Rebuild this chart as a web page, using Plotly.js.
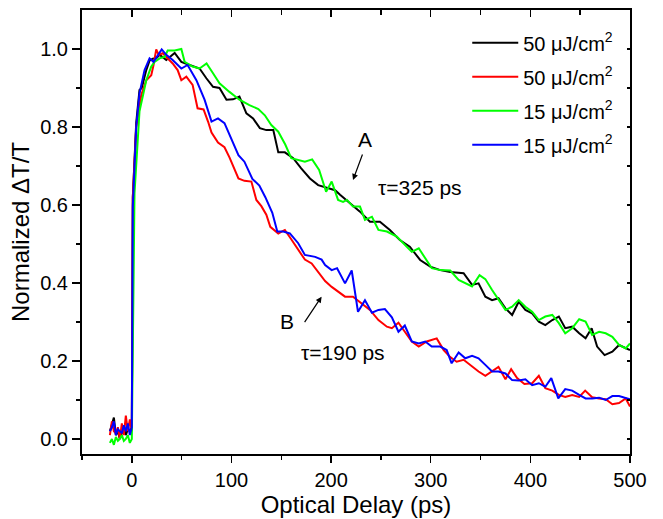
<!DOCTYPE html>
<html>
<head>
<meta charset="utf-8">
<script src="https://cdn.plot.ly/plotly-3.0.1.min.js"></script>
<style>html,body{margin:0;padding:0;background:#fff;}#chart{width:663px;height:519px;}</style>
</head>
<body>
<div id="chart"></div>
<script>
// ---- data ----
const seriesNames = ['50 \u03bcJ/cm<sup>2</sup>', '50 \u03bcJ/cm<sup>2</sup>', '15 \u03bcJ/cm<sup>2</sup>', '15 \u03bcJ/cm<sup>2</sup>'];
const seriesColors = ['#000000', '#ff0000', '#00ff00', '#0000ff'];

const blackX = [-22,-20,-18,-16,-14,-12,-10,-8,-6,-4,-2,0,1,4.4,7.7,10,14.5,17.8,21,24.5,28,34.6,43,49.7,58,68,74.8,81.5,88,95,101.6,108,115,121.7,128.5,135,142,147,153.6,162,170,178.8,187,195.6,204,209,219,229,239,249,259,269,279,289.4,299.5,309.6,319.6,333,341.5,348,354.8,361.6,368,375,381.7,388.3,395,401.8,408.5,415,422,428.6,435,442,449,455.4,461.5,467,474.5,482.3,489,495.7,500];
const blackY = [0.02,0.04,0.055,0.01,0.02,0.0,0.015,0.03,0.01,0.025,0.02,0.03,0.62,0.81,0.895,0.90,0.946,0.97,0.975,0.976,0.985,0.972,0.99,0.967,0.959,0.95,0.925,0.903,0.90,0.87,0.871,0.878,0.835,0.822,0.797,0.792,0.792,0.735,0.735,0.72,0.694,0.668,0.651,0.645,0.638,0.626,0.604,0.583,0.557,0.557,0.536,0.51,0.493,0.459,0.442,0.433,0.428,0.425,0.395,0.399,0.365,0.356,0.361,0.335,0.318,0.352,0.331,0.322,0.301,0.292,0.305,0.314,0.284,0.288,0.271,0.258,0.284,0.237,0.215,0.224,0.241,0.232,0.228];

const redX = [-22,-20,-18,-16,-14,-12,-10,-8,-6,-4,-2,0,1,4.4,9.5,14.5,19.5,21.8,24.5,27,31,36,41,46,49.7,54.7,61,66,72,76.5,80,86.5,93,98,107,113,120,125,130,135,139,147,153.6,160,167,173.7,180.5,187,194,200.6,206,214,222,231,239,247.5,256,261,267.6,274,281,288,296,306,313,319.6,326,333,341.5,348,354.8,361.6,368,375,380.7,386.7,394,401.8,408.5,415,422,428.6,435,442,449,455,462,469,475.6,482.3,489,495.7,500];
const redY = [0.01,0.045,0.02,0.015,0.03,0.0,0.04,0.01,0.06,0.02,0.05,0.02,0.62,0.80,0.882,0.92,0.933,0.959,0.999,0.985,0.989,0.976,0.963,0.946,0.92,0.929,0.908,0.848,0.845,0.814,0.786,0.76,0.748,0.722,0.668,0.662,0.66,0.613,0.597,0.575,0.544,0.527,0.536,0.512,0.487,0.46,0.45,0.429,0.405,0.39,0.38,0.365,0.365,0.348,0.331,0.305,0.288,0.284,0.298,0.275,0.25,0.237,0.25,0.258,0.228,0.21,0.198,0.203,0.185,0.173,0.162,0.173,0.185,0.153,0.179,0.156,0.141,0.143,0.162,0.13,0.124,0.113,0.108,0.113,0.108,0.124,0.107,0.104,0.102,0.089,0.092,0.104,0.083];

const greenX = [-22,-20,-18,-16,-14,-12,-10,-8,-6,-4,-2,0,2.7,7.7,14.5,19.5,22.8,27.9,33,36,43,49.7,53,61,68,75,81.5,88,98,108,118,127,133.5,140,147,154,160,167,173.7,181,188,195,200.6,207,212,216,222,229,234,241,247.5,256,266,276,281,288,294.5,301,309.6,319.6,328,334.7,341.5,349,354.8,361.6,368,375,381.7,388.3,395,401.8,408.5,415,422,428.6,435,442,449,455.4,462,469,475.6,482.3,489,495.7,500];
const greenY = [-0.01,0.0,-0.015,0.005,-0.005,0.0,0.01,-0.005,0.0,0.01,-0.01,0.0,0.63,0.84,0.92,0.955,0.967,0.976,0.98,0.996,0.996,1.0,0.967,0.955,0.95,0.963,0.938,0.912,0.89,0.87,0.856,0.846,0.83,0.805,0.788,0.755,0.72,0.715,0.711,0.717,0.69,0.634,0.66,0.613,0.608,0.613,0.596,0.596,0.562,0.57,0.536,0.532,0.519,0.493,0.48,0.489,0.463,0.438,0.433,0.432,0.408,0.399,0.391,0.42,0.41,0.382,0.356,0.331,0.339,0.356,0.339,0.326,0.305,0.314,0.318,0.297,0.271,0.284,0.307,0.301,0.267,0.275,0.271,0.262,0.241,0.232,0.245];

const blueX = [-22,-20,-18,-16,-14,-12,-10,-8,-6,-4,-2,0,1,4.4,7.7,12.8,17.8,21.8,25,30,34.6,41,49.7,56,64.8,73,80,86.5,93,100,107,113,121,128,134,141,146,152,158.6,167,173.7,184,190.5,194,200.6,206,214,220.7,227,234,241,247.5,254,261,267.6,274,281,288,294.5,301,309.6,316,321,328,334.7,341.5,348,354.8,361.6,368,375,381.7,388.3,395,401.8,408.5,415,421,428,435,442,449,455.4,462,469,475.6,482.3,489,495.7,500];
const blueY = [0.02,0.03,0.045,0.01,0.025,0.02,0.015,0.035,0.02,0.04,0.01,0.03,0.596,0.80,0.886,0.946,0.976,0.967,0.98,0.999,0.985,0.972,0.95,0.959,0.92,0.87,0.814,0.822,0.81,0.769,0.728,0.711,0.667,0.65,0.62,0.58,0.532,0.532,0.527,0.502,0.472,0.467,0.46,0.446,0.433,0.438,0.399,0.432,0.326,0.356,0.324,0.331,0.333,0.312,0.275,0.291,0.25,0.245,0.25,0.237,0.237,0.228,0.194,0.222,0.207,0.213,0.207,0.19,0.173,0.173,0.168,0.151,0.15,0.153,0.138,0.143,0.134,0.156,0.104,0.128,0.124,0.113,0.104,0.104,0.106,0.1,0.11,0.11,0.104,0.102];

const xTickVals = [0, 100, 200, 300, 400, 500];
const yTickVals = [0.0, 0.2, 0.4, 0.6, 0.8, 1.0];

// ---- build ----
const FONT = 'Arial, "Liberation Sans", sans-serif';
const xs = [blackX, redX, greenX, blueX];
const ys = [blackY, redY, greenY, blueY];
const traces = xs.map((x, i) => ({
  x: x, y: ys[i], type: 'scatter', mode: 'lines',
  name: seriesNames[i], legendgroup: 'g' + i,
  line: {color: seriesColors[i], width: 2}
}));
traces.push({x: [], y: [], xaxis: 'x2', yaxis: 'y2', type: 'scatter', mode: 'lines', showlegend: false, hoverinfo: 'skip'});

const EM = '\u2003';
const layout = {
  width: 663, height: 519,
  margin: {l: 82, r: 33, t: 10, b: 65},
  paper_bgcolor: '#fff', plot_bgcolor: '#fff',
  font: {family: FONT, size: 20, color: '#000'},
  showlegend: true,
  xaxis: {
    range: [-50, 500], tickvals: xTickVals, ticks: 'outside', ticklen: 7, tickwidth: 1.5, tickcolor: '#000',
    minor: {tickvals: [-50, 50, 150, 250, 350, 450], ticks: 'outside', ticklen: 4, tickwidth: 1.5, tickcolor: '#000'},
    showline: true, linewidth: 2, linecolor: '#000', showgrid: false, zeroline: false,
    tickfont: {size: 20, family: FONT},
    title: {text: EM + EM + 'Optical Delay (ps)', font: {size: 24, family: FONT}, standoff: 6},
    automargin: false
  },
  yaxis: {
    range: [-0.0385, 1.1], tickvals: yTickVals, tickformat: '.1f', ticks: 'outside', ticklen: 8, tickwidth: 1.5, tickcolor: '#000',
    minor: {tickvals: [0.1, 0.3, 0.5, 0.7, 0.9], ticks: 'outside', ticklen: 4, tickwidth: 1.5, tickcolor: '#000'},
    showline: true, linewidth: 2, linecolor: '#000', showgrid: false, zeroline: false,
    tickfont: {size: 20, family: FONT},
    title: {text: EM + 'Normalized \u0394T/T', font: {size: 24, family: FONT}, standoff: 4},
    automargin: false
  },
  xaxis2: {
    overlaying: 'x', side: 'top', anchor: 'y', range: [-50, 500], tickvals: xTickVals,
    ticks: 'inside', ticklen: 7, tickwidth: 1.5, tickcolor: '#000', showticklabels: false,
    minor: {tickvals: [-50, 50, 150, 250, 350, 450], ticks: 'inside', ticklen: 5, tickwidth: 1.5, tickcolor: '#000'},
    showline: true, linewidth: 2, linecolor: '#000', showgrid: false, zeroline: false
  },
  yaxis2: {
    overlaying: 'y', side: 'right', anchor: 'x', range: [-0.0385, 1.1], tickvals: [0,0.1,0.2,0.3,0.4,0.5,0.6,0.7,0.8,0.9,1.0],
    ticks: 'inside', ticklen: 3, tickwidth: 1.5, tickcolor: '#000', showticklabels: false,
    showline: true, linewidth: 2, linecolor: '#000', showgrid: false, zeroline: false
  },
  legend: {
    x: 0.703, y: 0.97, xanchor: 'left', yanchor: 'top',
    bgcolor: 'rgba(0,0,0,0)', borderwidth: 0,
    font: {size: 20, family: FONT}, traceorder: 'grouped', tracegroupgap: 5, itemwidth: 46
  },
  annotations: [
    {x: 234, y: 0.767, xref: 'x', yref: 'y', text: 'A', showarrow: false, font: {size: 21, family: FONT}},
    {x: 222, y: 0.664, xref: 'x', yref: 'y', text: '', showarrow: true, ax: 10, ay: -27, arrowhead: 2, arrowsize: 1, arrowwidth: 1.2, arrowcolor: '#000'},
    {x: 289.4, y: 0.645, xref: 'x', yref: 'y', text: '\u03c4=325 ps', showarrow: false, font: {size: 21, family: FONT}},
    {x: 156.1, y: 0.30, xref: 'x', yref: 'y', text: 'B', showarrow: false, font: {size: 21, family: FONT}},
    {x: 190.5, y: 0.365, xref: 'x', yref: 'y', text: '', showarrow: true, ax: -18, ay: 27, arrowhead: 2, arrowsize: 1, arrowwidth: 1.2, arrowcolor: '#000'},
    {x: 211.5, y: 0.222, xref: 'x', yref: 'y', text: '\u03c4=190 ps', showarrow: false, font: {size: 21, family: FONT}}
  ]
};

Plotly.newPlot('chart', traces, layout, {staticPlot: true, displayModeBar: false});
</script>
</body>
</html>
